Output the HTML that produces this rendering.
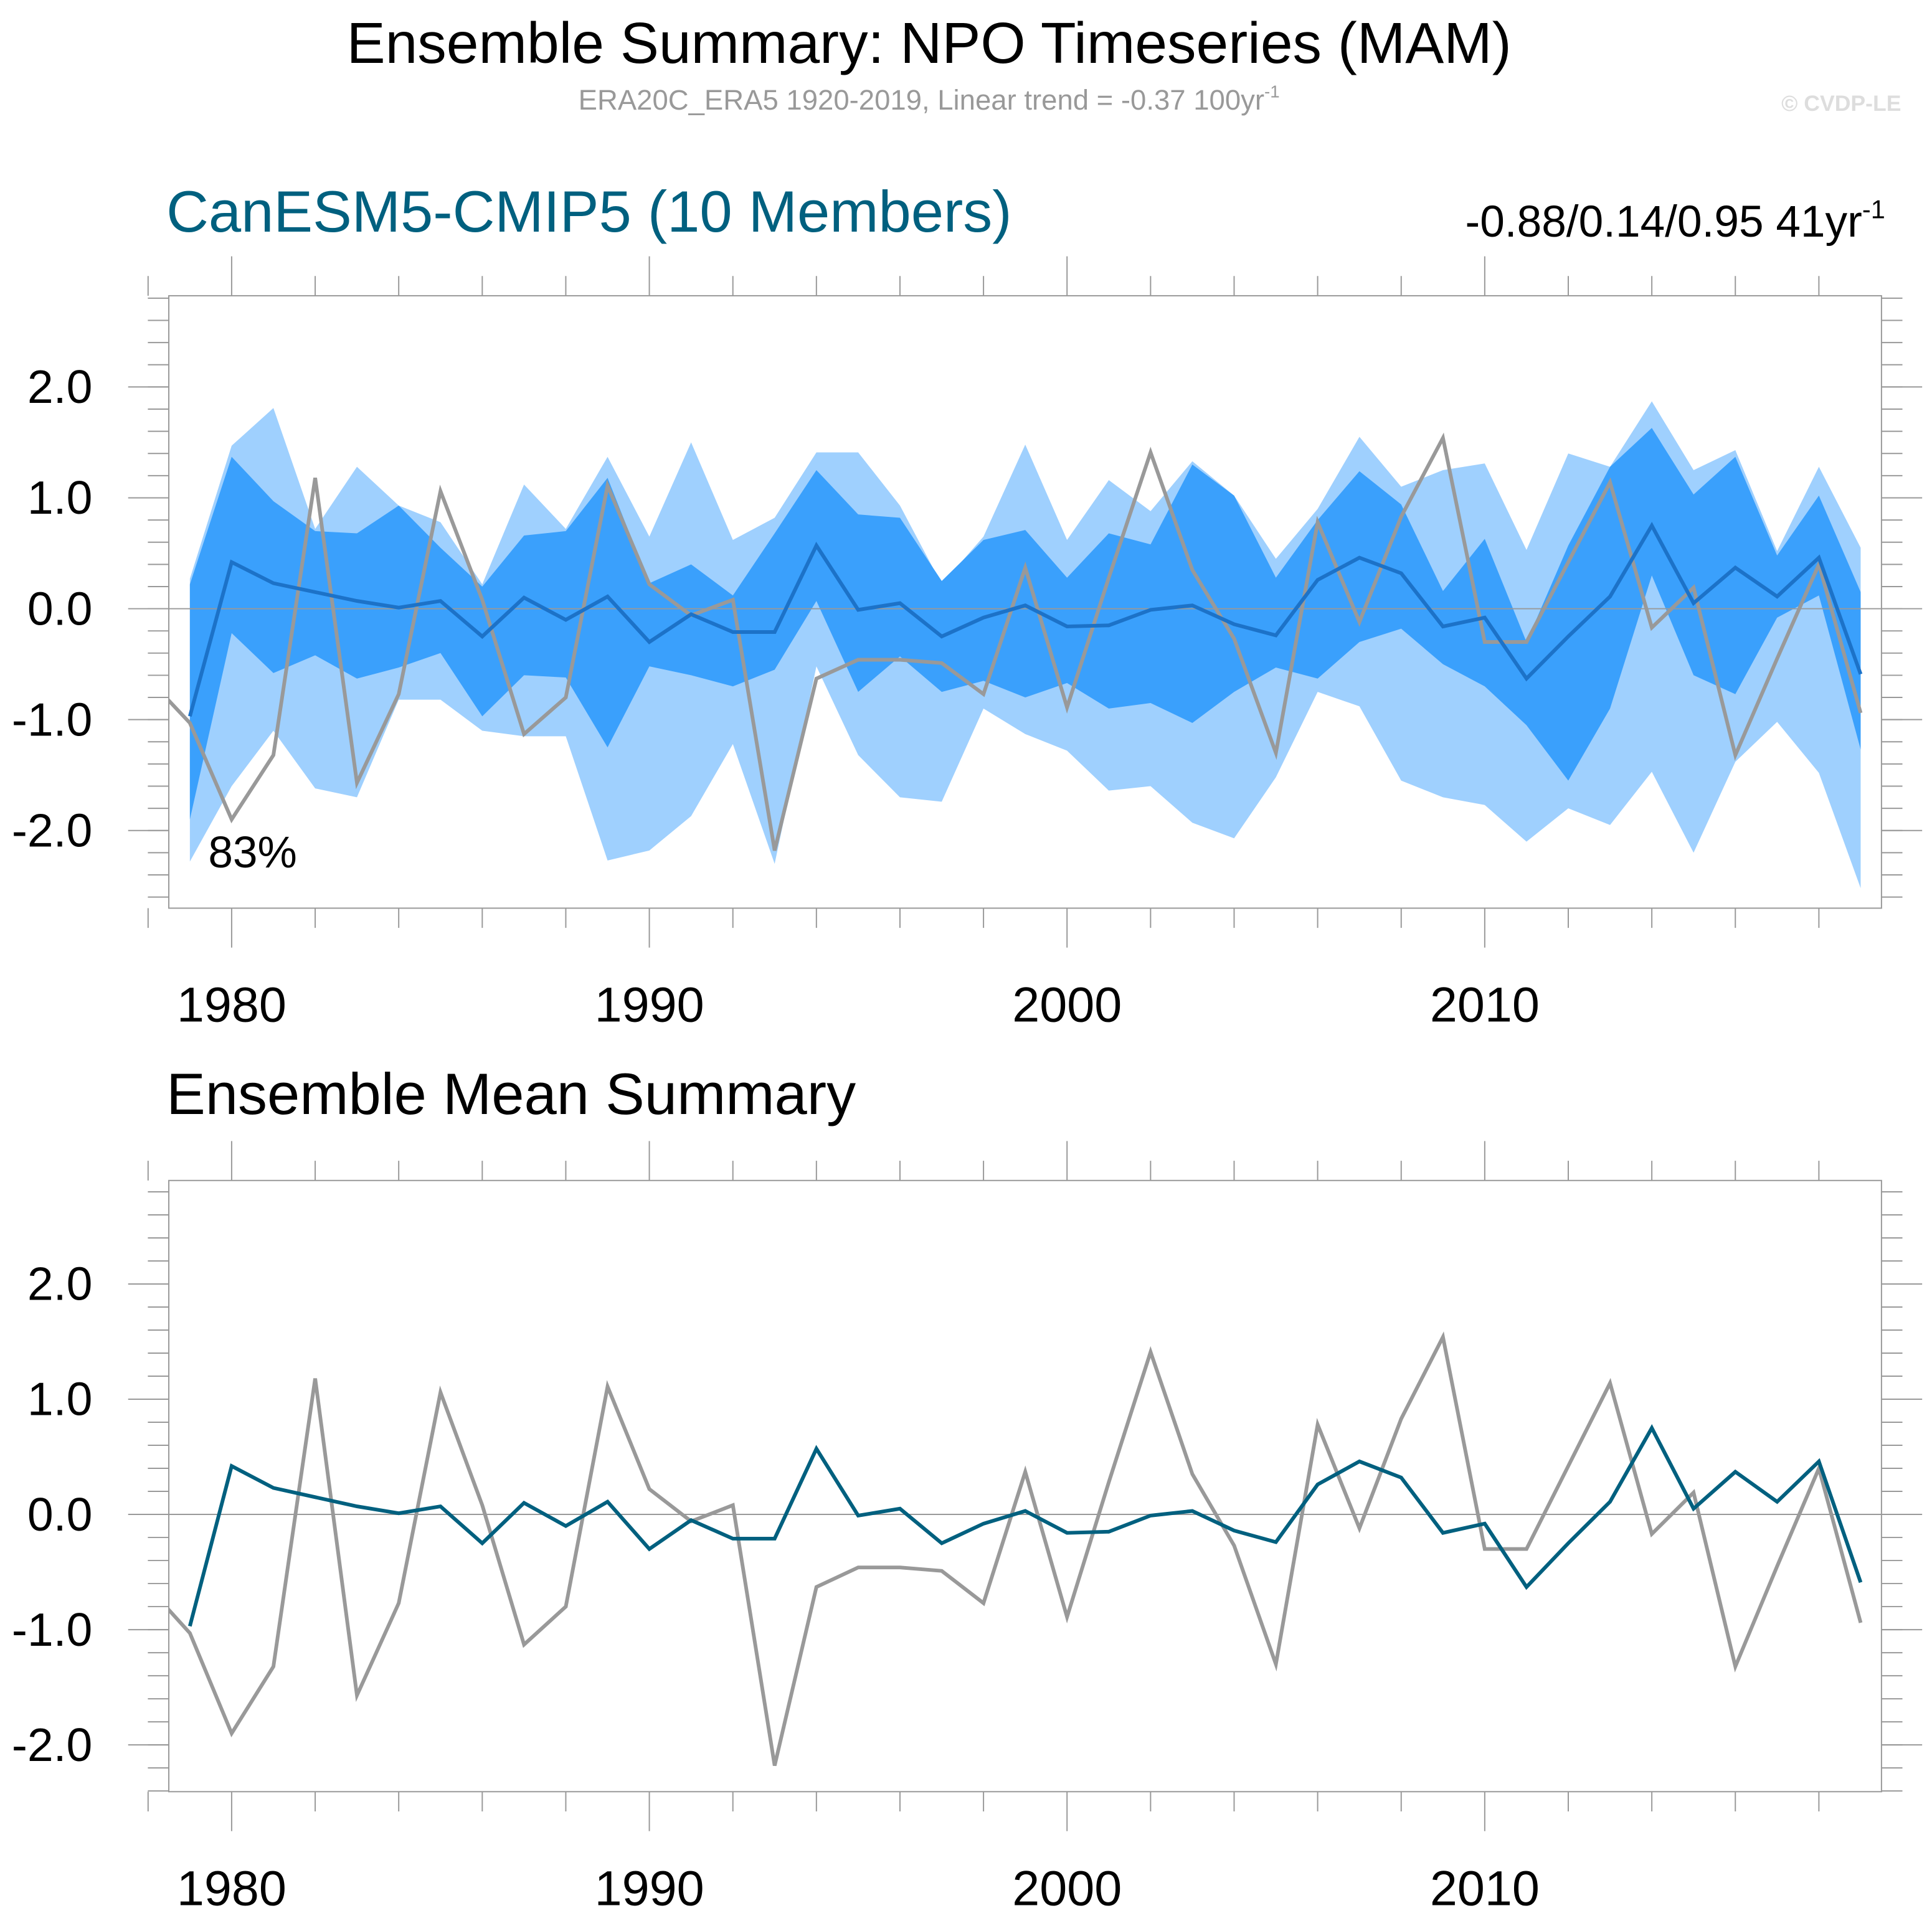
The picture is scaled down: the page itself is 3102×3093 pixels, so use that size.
<!DOCTYPE html>
<html><head><meta charset="utf-8"><style>
html,body{margin:0;padding:0;background:#fff;}
svg{display:block;font-family:"Liberation Sans",sans-serif;}
</style></head><body>
<svg id="chart" width="3102" height="3093" viewBox="0 0 1568 1563" preserveAspectRatio="none" xmlns="http://www.w3.org/2000/svg">
<text x="754" y="51" font-size="47" text-anchor="middle">Ensemble Summary: NPO Timeseries (MAM)</text>
<text x="754" y="89" font-size="23" fill="#999" text-anchor="middle">ERA20C_ERA5 1920-2019, Linear trend = -0.37 100yr<tspan font-size="14" dy="-10">-1</tspan></text>
<text x="1543" y="90" font-size="18" font-weight="bold" fill="#ddd" text-anchor="end">© CVDP-LE</text>
<text x="135" y="188" font-size="47.5" fill="#00607f">CanESM5-CMIP5 (10 Members)</text>
<text x="1530" y="192" font-size="36" text-anchor="end">-0.88/0.14/0.95 41yr<tspan font-size="21" dy="-15">-1</tspan></text>
<text x="135" y="904" font-size="47.5">Ensemble Mean Summary</text>
<g id="top"></g><g id="bot"></g>
</svg>
<script>
const years=[];for(let y=1979;y<=2019;y++)years.push(y);
const obsYears=[];for(let y=1978;y<=2019;y++)obsYears.push(y);
const ensMean=[-0.97,0.42,0.23,0.15,0.07,0.01,0.07,-0.25,0.10,-0.10,0.11,-0.30,-0.05,-0.21,-0.21,0.57,-0.01,0.05,-0.25,-0.08,0.03,-0.16,-0.15,-0.01,0.03,-0.14,-0.24,0.26,0.46,0.32,-0.16,-0.08,-0.63,-0.25,0.11,0.75,0.05,0.37,0.11,0.46,-0.59];
const obs=[-0.63,-1.03,-1.90,-1.32,1.18,-1.57,-0.77,1.06,0.08,-1.13,-0.80,1.11,0.22,-0.06,0.08,-2.18,-0.63,-0.46,-0.46,-0.49,-0.77,0.37,-0.89,0.28,1.41,0.35,-0.27,-1.30,0.78,-0.12,0.83,1.54,-0.30,-0.30,0.42,1.14,-0.17,0.19,-1.32,-0.45,0.40,-0.94];
const maxV=[0.27,1.47,1.81,0.72,1.28,0.93,0.78,0.22,1.12,0.72,1.37,0.65,1.50,0.62,0.82,1.41,1.41,0.93,0.22,0.65,1.48,0.62,1.16,0.88,1.33,1.02,0.45,0.90,1.55,1.10,1.25,1.31,0.53,1.40,1.28,1.87,1.25,1.43,0.52,1.28,0.55];
const minV=[-2.28,-1.60,-1.10,-1.62,-1.70,-0.82,-0.82,-1.10,-1.15,-1.15,-2.27,-2.18,-1.87,-1.22,-2.30,-0.52,-1.32,-1.70,-1.74,-0.90,-1.13,-1.28,-1.64,-1.60,-1.93,-2.07,-1.52,-0.75,-0.88,-1.55,-1.70,-1.77,-2.10,-1.80,-1.95,-1.47,-2.20,-1.38,-1.02,-1.48,-2.52];
const p90=[0.22,1.37,0.97,0.70,0.68,0.93,0.55,0.20,0.66,0.70,1.18,0.23,0.40,0.12,0.68,1.25,0.85,0.82,0.25,0.62,0.71,0.28,0.68,0.58,1.30,1.02,0.28,0.80,1.24,0.94,0.16,0.63,-0.30,0.57,1.28,1.63,1.03,1.37,0.48,1.02,0.15];
const p10=[-1.90,-0.22,-0.58,-0.42,-0.63,-0.53,-0.40,-0.97,-0.60,-0.62,-1.25,-0.52,-0.60,-0.70,-0.55,0.07,-0.75,-0.43,-0.75,-0.65,-0.80,-0.67,-0.90,-0.85,-1.03,-0.75,-0.53,-0.63,-0.30,-0.18,-0.50,-0.70,-1.05,-1.55,-0.90,0.30,-0.60,-0.77,-0.08,0.12,-1.27];
const yTicks=[2,1,0,-1,-2];const yTickLabels=["2.0","1.0","0.0","-1.0","-2.0"];
const xTicks=[1980,1990,2000,2010];
const NS="http://www.w3.org/2000/svg";
function mk(p,t,a){const e=document.createElementNS(NS,t);for(const k in a)e.setAttribute(k,a[k]);p.appendChild(e);return e;}
const X0=137,X1=1527;
const xs=y=>188+(y-1980)*33.9;
function panel(g,top,bot,y0,ppu,name,showBands,meanColor){
  const ys=v=>y0-v*ppu;
  const cid="clip-"+name;
  const cp=mk(g,"clipPath",{id:cid});mk(cp,"rect",{x:X0,y:top,width:X1-X0,height:bot-top});
  const inner=mk(g,"g",{"clip-path":"url(#"+cid+")"});
  if(showBands){
    let d=years.map((y,i)=>(i?"L":"M")+xs(y)+","+ys(maxV[i])).join("")+years.slice().reverse().map((y,j)=>"L"+xs(y)+","+ys(minV[years.length-1-j])).join("")+"Z";
    const a=mk(inner,"path",{d:d,fill:"#9fd0fe"});
    
    
    d=years.map((y,i)=>(i?"L":"M")+xs(y)+","+ys(p90[i])).join("")+years.slice().reverse().map((y,j)=>"L"+xs(y)+","+ys(p10[years.length-1-j])).join("")+"Z";
    const b=mk(inner,"path",{d:d,fill:"#3aa0fc"});
    
    
  }
  const z=mk(inner,"line",{x1:X0,x2:X1,y1:ys(0),y2:ys(0),stroke:"#999","stroke-width":1});
  
  
  const ol=mk(inner,"polyline",{points:obsYears.map((y,i)=>xs(y)+","+ys(obs[i])).join(" "),fill:"none",stroke:"#999","stroke-width":3});
  
  
  const ml=mk(inner,"polyline",{points:years.map((y,i)=>xs(y)+","+ys(ensMean[i])).join(" "),fill:"none",stroke:meanColor,"stroke-width":3});
  
  
  const fr=mk(g,"rect",{x:X0,y:top,width:X1-X0,height:bot-top,fill:"none",stroke:"#999","stroke-width":1});
  
  
  for(let v=-2.6;v<=2.81;v+=0.2){const yy=ys(v);if(yy<top||yy>bot)continue;
    mk(g,"line",{x1:X0-17,x2:X0,y1:yy,y2:yy,stroke:"#999","stroke-width":1});
    mk(g,"line",{x1:X1,x2:X1+17,y1:yy,y2:yy,stroke:"#999","stroke-width":1});}
  yTicks.forEach((v,i)=>{const yy=ys(v);
    mk(g,"line",{x1:X0-33,x2:X0,y1:yy,y2:yy,stroke:"#999","stroke-width":1});
    mk(g,"line",{x1:X1,x2:X1+33,y1:yy,y2:yy,stroke:"#999","stroke-width":1});
    const t=mk(g,"text",{x:75,y:yy+13,"font-size":38,"text-anchor":"end"});t.textContent=yTickLabels[i];
    
    });
  for(let y=1978;y<=2019;y+=2){const xx=xs(y);const big=(y%10===0);
    mk(g,"line",{x1:xx,x2:xx,y1:top,y2:top-(big?32:16),stroke:"#999","stroke-width":1});
    mk(g,"line",{x1:xx,x2:xx,y1:bot,y2:bot+(big?32:16),stroke:"#999","stroke-width":1});}
  xTicks.forEach(y=>{const t=mk(g,"text",{x:xs(y),y:bot+92,"font-size":40,"text-anchor":"middle"});t.textContent=y;
    
    });
  return ys;
}
panel(document.getElementById("top"),240,737,494,90,"top",true,"#1c72c8");
panel(document.getElementById("bot"),958,1454,1229,93.5,"bot",false,"#00607f");
const pct=mk(document.getElementById("top"),"text",{x:169,y:704,"font-size":36});
pct.textContent="83%";


</script>
</body></html>
